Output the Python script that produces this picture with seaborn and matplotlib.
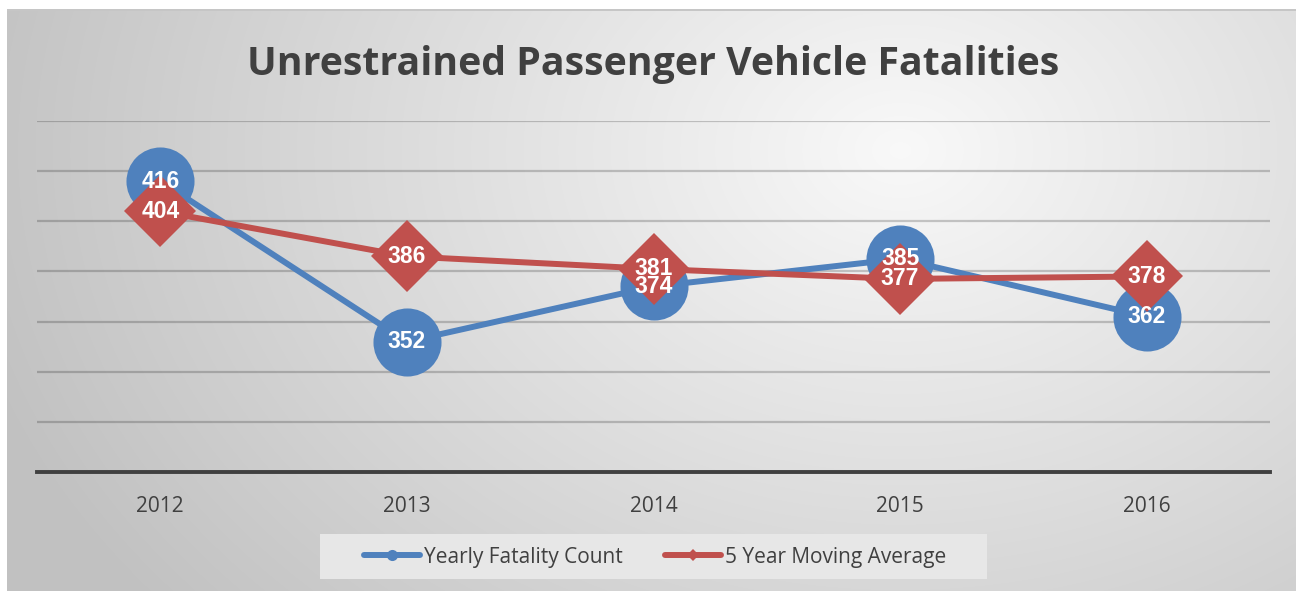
import matplotlib
matplotlib.use('Agg')
import matplotlib.pyplot as plt
from matplotlib.lines import Line2D
from matplotlib.patches import Rectangle
import numpy as np
import pandas as pd
import seaborn as sns

# Chart data
years = [2012, 2013, 2014, 2015, 2016]
yearly_count = [416, 352, 374, 385, 362]
moving_avg = [404, 386, 381, 377, 378]
series_names = ['Yearly Fatality Count', '5 Year Moving Average']
title = 'Unrestrained Passenger Vehicle Fatalities'

BLUE = '#4F81BD'
RED = '#C0504D'
DARK = '#404040'

df = pd.DataFrame({'year': years, 'count': yearly_count, 'avg': moving_avg})

sns.set_theme(style='white')
plt.rcParams['font.family'] = ['Open Sans', 'DejaVu Sans']

W, H = 1296, 591
fig = plt.figure(figsize=(W / 100, H / 100), dpi=100)

# Background: soft radial gray gradient, white margin at top/left
bg_ax = fig.add_axes([0, 0, 1, 1], zorder=-1)
yy, xx = np.mgrid[0:H, 0:W]
d = np.sqrt(((xx - 900) / 800.0) ** 2 + ((yy - 150) / 600.0) ** 2)
val = np.clip(0.975 - 0.18 * d, 0.76, 0.975)
img = np.dstack([val, val, val])
img[:9, :, :] = 1.0
img[:, :7, :] = 1.0
img[9:11, 7:, :] = 0.78
bg_ax.imshow(img, aspect='auto', interpolation='bilinear')
bg_ax.axis('off')

# Plot area
ax = fig.add_axes([37 / W, 1 - 472 / H, (1270 - 37) / W, (472 - 121) / H])
ax.patch.set_alpha(0)

sns.lineplot(data=df, x='year', y='count', ax=ax, color=BLUE, linewidth=4.3,
             marker='o', markersize=49, markeredgewidth=0, zorder=3)
sns.lineplot(data=df, x='year', y='avg', ax=ax, color=RED, linewidth=4.3,
             marker='D', markersize=37, markeredgewidth=0, zorder=4)

for x, y in zip(years, yearly_count):
    ax.text(x, y, str(y), ha='center', va='center', color='white', fontsize=16.5,
            fontweight='bold', family='Liberation Sans', zorder=6)
for x, y in zip(years, moving_avg):
    ax.text(x, y, str(y), ha='center', va='center', color='white', fontsize=16.5,
            fontweight='bold', family='Liberation Sans', zorder=6)

ax.set_xlim(years[0] - 0.5, years[-1] + 0.5)
ax.set_ylim(300, 440)
ax.set_yticks(range(320, 441, 20))
ax.yaxis.grid(True, color='black', alpha=0.2, linewidth=1.6)
ax.set_yticklabels([])
ax.tick_params(axis='y', length=0)
ax.set_xticks(years)
ax.set_xticklabels([str(y) for y in years])
ax.tick_params(axis='x', length=0, pad=17, labelsize=15, labelcolor=DARK)
ax.set_xlabel('')
ax.set_ylabel('')
for side in ['top', 'left', 'right']:
    ax.spines[side].set_visible(False)
ax.spines['bottom'].set_color(DARK)
ax.spines['bottom'].set_linewidth(2.8)
ax.spines['bottom'].set_zorder(5)

# Title
fig.text(653 / W, 1 - 75 / H, title, ha='center', va='baseline',
         fontsize=28.3, fontweight='bold', color=DARK)

# Legend box and entries
fig.patches.append(Rectangle((320 / W, 1 - 579 / H), (987 - 320) / W, 45 / H,
                             transform=fig.transFigure, facecolor='#e7e7e7',
                             edgecolor='none', zorder=0))
handles = [
    Line2D([], [], color=BLUE, linewidth=4.3, marker='o', markersize=8,
           markeredgewidth=0, solid_capstyle='round'),
    Line2D([], [], color=RED, linewidth=4.3, marker='D', markersize=6,
           markeredgewidth=0, solid_capstyle='round'),
]
fig.legend(handles, series_names, loc='center', bbox_to_anchor=(655 / W, 1 - 557 / H),
           ncol=2, frameon=False, fontsize=15, labelcolor=DARK,
           handlelength=2.7, handletextpad=0.2, columnspacing=2.0)

fig.savefig('out.png', dpi=100)
